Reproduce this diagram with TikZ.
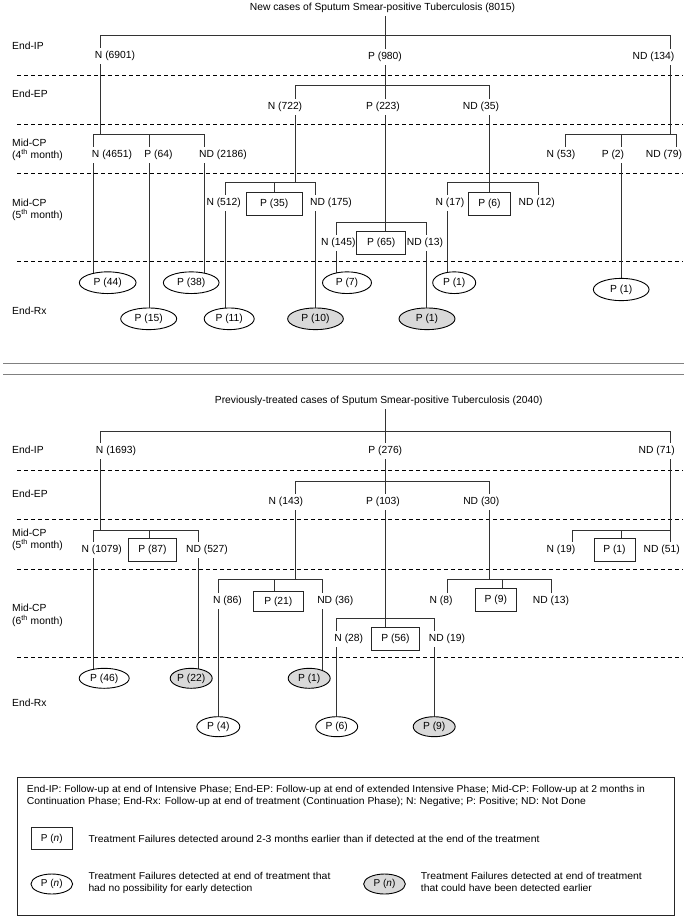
\documentclass[tikz,border=0pt]{standalone}
\usepackage{fontspec}
\setmainfont{Liberation Sans}
\usepackage{graphicx}
\usetikzlibrary{shapes.geometric,backgrounds}
\newcommand\tf{\fontsize{10.3}{12}\selectfont}
\newcommand\lgf{\fontsize{10}{11}\selectfont}
\newcommand\fitw[2]{\resizebox{#1}{\height}{#2}}
\tikzset{
  lbl/.style={fill=white, inner xsep=0.3pt, inner ysep=3pt, font=\tf, text height=7.6pt, text depth=2.2pt},
  rowlbl/.style={anchor=west, inner sep=0pt, font=\tf, text height=7.6pt, text depth=2.2pt},
  fbx/.style={draw=black!85, line width=0.9pt, fill=white, inner sep=0pt, font=\tf, text height=7.6pt, text depth=2.2pt},
  ell/.style={ellipse, draw=black, line width=0.9pt, fill=white, inner sep=0pt, font=\tf, minimum height=21.7pt, text height=7.6pt, text depth=2.2pt},
  gell/.style={ell, fill=gray!30},
  con/.style={draw=black!80, line width=0.9pt},
  dsh/.style={draw=black, line width=0.8pt, dash pattern=on 4pt off 3pt},
  sep/.style={draw=black!50, line width=1.5pt},
  lgtxt/.style={anchor=west, inner sep=0pt, font=\lgf, text height=7.3pt, text depth=2pt},
}
\begin{document}
\begin{tikzpicture}[x=1pt,y=-1pt]
\useasboundingbox (0,0) rectangle (687,919);

% ---------------- TOP TREE ----------------
\node[lbl] (t1) at (382.5,8) {New cases of Sputum Smear-positive Tuberculosis (8015)};
% row labels
\node[rowlbl] (r1) at (12,47) {End-IP};
\node[rowlbl] (r2) at (12,95) {End-EP};
\node[rowlbl] (r3a) at (12,143.3) {Mid-CP};
\node[rowlbl] (r3b) at (12,155.3) {(4\textsuperscript{th} month)};
\node[rowlbl] (r4a) at (12,203.3) {Mid-CP};
\node[rowlbl] (r4b) at (12,215.7) {(5\textsuperscript{th} month)};
\node[rowlbl] (r5) at (12,311.7) {End-Rx};
% End-IP
\node[lbl] (n6901) at (115,56) {N (6901)};
\node[lbl] (p980) at (385,57) {P (980)};
\node[lbl] (nd134) at (653.5,57) {ND (134)};
% End-EP
\node[lbl] (n722) at (285,107) {N (722)};
\node[lbl] (p223) at (383,107) {P (223)};
\node[lbl] (nd35) at (481,107) {ND (35)};
% Mid-CP 4th
\node[lbl] (n4651) at (112,155) {N (4651)};
\node[lbl] (p64) at (158.5,155) {P (64)};
\node[lbl] (nd2186) at (223,155) {ND (2186)};
\node[lbl] (n53) at (561,155) {N (53)};
\node[lbl] (p2) at (613,155) {P (2)};
\node[lbl] (nd79) at (664,155) {ND (79)};
% Mid-CP 5th
\node[lbl] (n512) at (223.7,203) {N (512)};
\node[fbx, minimum width=56.3pt, minimum height=23pt] (p35) at (274.2,204.2) {P (35)};
\node[lbl] (nd175) at (331,203) {ND (175)};
\node[lbl] (n17) at (450,203) {N (17)};
\node[fbx, minimum width=42.3pt, minimum height=22.3pt] (p6) at (489.5,203.8) {P (6)};
\node[lbl] (nd12) at (536.7,203) {ND (12)};
\node[lbl] (n145) at (338.3,242.7) {N (145)};
\node[fbx, minimum width=49pt, minimum height=22.6pt] (p65) at (381.2,243) {P (65)};
\node[lbl] (nd13) at (425,242.7) {ND (13)};
% End-Rx
\node[ell, minimum width=56.7pt] (e44) at (107.7,282.7) {P (44)};
\node[ell, minimum width=55.7pt] (e38) at (191.2,282.7) {P (38)};
\node[ell, minimum width=49pt] (e7) at (347,282.7) {P (7)};
\node[ell, minimum width=43pt] (e1a) at (454.2,282.7) {P (1)};
\node[ell, minimum width=55.7pt, minimum height=22.3pt] (e1b) at (621.2,289.5) {P (1)};
\node[ell, minimum width=56pt] (e15) at (148.7,318.8) {P (15)};
\node[ell, minimum width=50pt] (e11) at (229.2,318.8) {P (11)};
\node[gell, minimum width=55.7pt] (e10) at (315.5,318.8) {P (10)};
\node[gell, minimum width=56pt] (e1c) at (427,318.8) {P (1)};

% ---------------- BOTTOM TREE ----------------
\node[lbl] (t2) at (378.7,401) {Previously-treated cases of Sputum Smear-positive Tuberculosis (2040)};
\node[rowlbl] (s1) at (12,451) {End-IP};
\node[rowlbl] (s2) at (12,494.3) {End-EP};
\node[rowlbl] (s3a) at (12,533.3) {Mid-CP};
\node[rowlbl] (s3b) at (12,545.3) {(5\textsuperscript{th} month)};
\node[rowlbl] (s4a) at (12,608.3) {Mid-CP};
\node[rowlbl] (s4b) at (12,621.7) {(6\textsuperscript{th} month)};
\node[rowlbl] (s5) at (12,703.3) {End-Rx};
% End-IP
\node[lbl] (n1693) at (116,451) {N (1693)};
\node[lbl] (p276) at (385.3,451) {P (276)};
\node[lbl] (nd71) at (656.7,451) {ND (71)};
% End-EP
\node[lbl] (n143) at (285.8,501.7) {N (143)};
\node[lbl] (p103) at (383,501.7) {P (103)};
\node[lbl] (nd30) at (481.3,501.7) {ND (30)};
% Mid-CP 5th
\node[lbl] (n1079) at (101.7,550) {N (1079)};
\node[fbx, minimum width=48.3pt, minimum height=22.7pt] (p87) at (152.5,549.7) {P (87)};
\node[lbl] (nd527) at (207,550) {ND (527)};
\node[lbl] (n19) at (561,550) {N (19)};
\node[fbx, minimum width=41pt, minimum height=23.7pt] (p1b) at (614.5,549.8) {P (1)};
\node[lbl] (nd51) at (661.7,550) {ND (51)};
% Mid-CP 6th
\node[lbl] (n86) at (227.5,600.7) {N (86)};
\node[fbx, minimum width=50pt, minimum height=20pt] (p21) at (278.3,601.3) {P (21)};
\node[lbl] (nd36) at (335.3,600.7) {ND (36)};
\node[lbl] (n28) at (348.8,639) {N (28)};
\node[fbx, minimum width=47.6pt, minimum height=22.3pt] (p56) at (395.5,638.8) {P (56)};
\node[lbl] (nd19) at (447,639) {ND (19)};
\node[lbl] (n8) at (441,600.7) {N (8)};
\node[fbx, minimum width=41.7pt, minimum height=22.7pt] (p9) at (495.8,599.7) {P (9)};
\node[lbl] (nd13b) at (551,600.7) {ND (13)};
% End-Rx
\node[ell, minimum width=50pt, minimum height=20pt] (e46) at (104.2,678.3) {P (46)};
\node[gell, minimum width=42pt, minimum height=20pt] (e22) at (191.2,678.3) {P (22)};
\node[gell, minimum width=42pt, minimum height=20pt] (e1d) at (309.2,678.3) {P (1)};
\node[ell, minimum width=43pt, minimum height=20pt] (e4) at (218.3,726.7) {P (4)};
\node[ell, minimum width=42pt, minimum height=20pt] (e6) at (336.7,726.7) {P (6)};
\node[gell, minimum width=42pt, minimum height=20pt] (e9) at (434.2,726.7) {P (9)};

% ---------------- LEGEND ----------------
\node[draw=black!85, line width=0.9pt, minimum width=657pt, minimum height=137.7pt, inner sep=0pt, anchor=north west] (leg) at (17.3,777.3) {};
\node[lgtxt] (lg1) at (26.7,790) {\fitw{618pt}{End-IP: Follow-up at end of Intensive Phase; End-EP: Follow-up at end of extended Intensive Phase; Mid-CP: Follow-up at 2 months in}};
\node[lgtxt] (lg2) at (26.7,801.7) {\fitw{559pt}{Continuation Phase; End-Rx: Follow-up at end of treatment (Continuation Phase); N: Negative; P: Positive; ND: Not Done}};
\node[fbx, font=\lgf, minimum width=41.7pt, minimum height=22pt] (lgbox) at (51.8,838.3) {P (\textit{n})};
\node[lgtxt] (lgbt) at (88.3,840) {\fitw{451pt}{Treatment Failures detected around 2-3 months earlier than if detected at the end of the treatment}};
\node[ell, font=\lgf, minimum width=41.7pt, minimum height=20pt] (lgell) at (51.8,884) {P (\textit{n})};
\node[lgtxt] (lget1) at (88.3,876.7) {\fitw{242pt}{Treatment Failures detected at end of treatment that}};
\node[lgtxt] (lget2) at (88.3,889.3) {\fitw{164pt}{had no possibility for early detection}};
\node[gell, font=\lgf, minimum width=41.7pt, minimum height=20pt] (lggell) at (384.5,884) {P (\textit{n})};
\node[lgtxt] (lgg1) at (420.7,876.7) {\fitw{221pt}{Treatment Failures detected at end of treatment}};
\node[lgtxt] (lgg2) at (420.7,889.3) {\fitw{171pt}{that could have been detected earlier}};

\begin{pgfonlayer}{background}
% dashed separators
\foreach \yy in {75,124,173.3,261,470,519.3,569.3,657.3}
  \draw[dsh] (17,\yy) -- (683,\yy);
% double separator
\draw[sep] (3,363.7) -- (684,363.7);
\draw[sep] (3,374.7) -- (684,374.7);

% top tree connectors
\draw[con] (385,0 |- t1.south) -- (385,35.7);
\draw[con] (100.7,134) -- (100.7,35.7) -- (670,35.7) -- (670,134);
\draw[con] (385,35.7) -- (385,85);
\draw[con] (295,182.7) -- (295,85) -- (489,85) -- (489,182.7);
\draw[con] (385,85) -- (385,222);
\draw[con] (93.3,0 |- e44) -- (93.3,134) -- (204.3,134) -- (204.3,0 |- e38);
\draw[con] (149,134) -- (149,0 |- e15);
\draw[con] (565.7,0 |- n53) -- (565.7,134) -- (676,134) -- (676,0 |- nd79);
\draw[con] (621,134) -- (621,0 |- e1b);
\draw[con] (225.7,0 |- e11) -- (225.7,182.7) -- (315.7,182.7) -- (315.7,0 |- e10);
\draw[con] (274.3,182.7) -- (274.3,0 |- p35.north);
\draw[con] (336,0 |- e7) -- (336,222) -- (426.7,222) -- (426.7,0 |- e1c);
\draw[con] (385,222) -- (385,0 |- p65.north);
\draw[con] (447.3,0 |- e1a) -- (447.3,182.7) -- (538.3,182.7) -- (538.3,0 |- nd12);
\draw[con] (489,182.7) -- (489,0 |- p6.north);

% bottom tree connectors
\draw[con] (385,0 |- t2.south) -- (385,431);
\draw[con] (100.7,530.7) -- (100.7,431) -- (670,431) -- (670,0 |- nd51);
\draw[con] (385,431) -- (385,481);
\draw[con] (295,579) -- (295,481) -- (489,481) -- (489,579);
\draw[con] (385,481) -- (385,618.3);
\draw[con] (93.3,0 |- e46) -- (93.3,530.7) -- (198.3,530.7) -- (198.3,0 |- e22);
\draw[con] (149,530.7) -- (149,0 |- p87.north);
\draw[con] (572.3,0 |- n19) -- (572.3,530.7) -- (670,530.7);
\draw[con] (621,530.7) -- (621,0 |- p1b.north);
\draw[con] (218.3,0 |- e4) -- (218.3,579) -- (322.3,579) -- (322.3,0 |- e1d);
\draw[con] (274.3,579) -- (274.3,0 |- p21.north);
\draw[con] (336.7,0 |- e6) -- (336.7,618.3) -- (434,618.3) -- (434,0 |- e9);
\draw[con] (385,618.3) -- (385,0 |- p56.north);
\draw[con] (447.3,0 |- n8) -- (447.3,579) -- (551.7,579) -- (551.7,0 |- nd13b);
\draw[con] (502.7,579) -- (502.7,0 |- p9.north);
\end{pgfonlayer}
\end{tikzpicture}
\end{document}
